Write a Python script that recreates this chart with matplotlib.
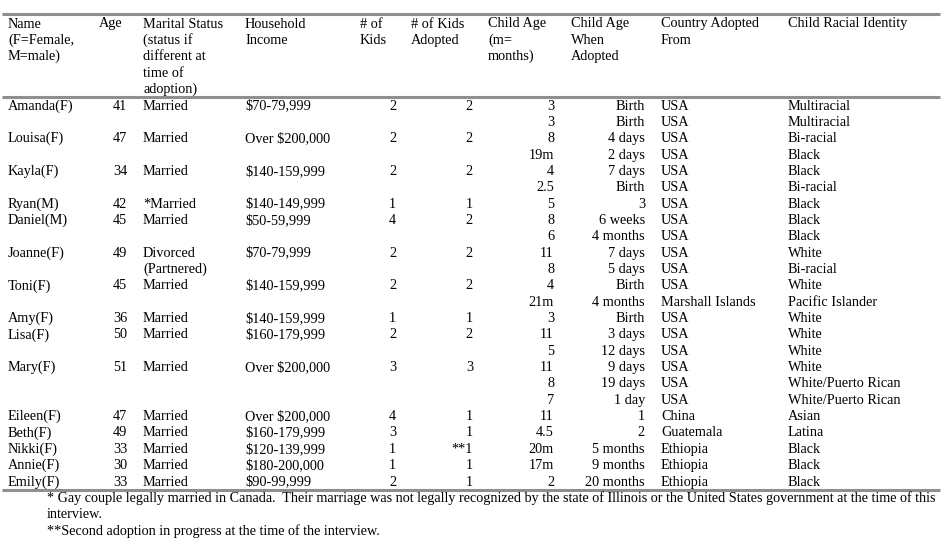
import matplotlib
matplotlib.use("Agg")
import matplotlib.pyplot as plt

names = ["Amanda(F)", "", "Louisa(F)", "", "Kayla(F)", "", "Ryan(M)", "Daniel(M)", "",
         "Joanne(F)", "", "Toni(F)", "", "Amy(F)", "Lisa(F)", "", "Mary(F)", "", "",
         "Eileen(F)", "Beth(F)", "Nikki(F)", "Annie(F)", "Emily(F)"]
ages = ["41", "", "47", "", "34", "", "42", "45", "", "49", "", "45", "", "36", "50", "",
        "51", "", "", "47", "49", "33", "30", "33"]
marital = ["Married", "", "Married", "", "Married", "", "*Married", "Married", "",
           "Divorced", "(Partnered)", "Married", "", "Married", "Married", "", "Married", "", "",
           "Married", "Married", "Married", "Married", "Married"]
income = ["$70-79,999", "", "Over $200,000", "", "$140-159,999", "", "$140-149,999",
          "$50-59,999", "", "$70-79,999", "", "$140-159,999", "", "$140-159,999",
          "$160-179,999", "", "Over $200,000", "", "", "Over $200,000", "$160-179,999",
          "$120-139,999", "$180-200,000", "$90-99,999"]
kids = ["2", "", "2", "", "2", "", "1", "4", "", "2", "", "2", "", "1", "2", "", "3", "", "",
        "4", "3", "1", "1", "2"]
kids_adopted = ["2", "", "2", "", "2", "", "1", "2", "", "2", "", "2", "", "1", "2", "", "3",
                "", "", "1", "1", "**1", "1", "1"]
child_age = ["3", "3", "8", "19m", "4", "2.5", "5", "8", "6", "11", "8", "4", "21m", "3",
             "11", "5", "11", "8", "7", "11", "4.5", "20m", "17m", "2"]
age_adopted = ["Birth", "Birth", "4 days", "2 days", "7 days", "Birth", "3", "6 weeks",
               "4 months", "7 days", "5 days", "Birth", "4 months", "Birth", "3 days",
               "12 days", "9 days", "19 days", "1 day", "1", "2", "5 months", "9 months",
               "20 months"]
country = ["USA", "USA", "USA", "USA", "USA", "USA", "USA", "USA", "USA", "USA", "USA", "USA",
           "Marshall Islands", "USA", "USA", "USA", "USA", "USA", "USA", "China", "Guatemala",
           "Ethiopia", "Ethiopia", "Ethiopia"]
race = ["Multiracial", "Multiracial", "Bi-racial", "Black", "Black", "Bi-racial", "Black",
        "Black", "Black", "White", "Bi-racial", "White", "Pacific Islander", "White", "White",
        "White", "White", "White/Puerto Rican", "White/Puerto Rican", "Asian", "Latina",
        "Black", "Black", "Black"]

headers = [
    "Name\n(F=Female,\nM=male)", "Age",
    "Marital Status\n(status if\ndifferent at\ntime of\nadoption)",
    "Household\nIncome", "# of\nKids", "# of Kids\nAdopted",
    "Child Age\n(m=\nmonths)", "Child Age\nWhen\nAdopted", "Country Adopted\nFrom",
    "Child Racial Identity",
]
footnotes = [
    "* Gay couple legally married in Canada.  Their marriage was not legally recognized by the state of Illinois or the United States government at the time of this",
    "interview.",
    "**Second adoption in progress at the time of the interview.",
]

columns = [names, ages, marital, income, kids, kids_adopted, child_age, age_adopted,
           country, race]
# (header x, data x, data alignment)
col_layout = [(8, 8, "left"), (99, 127, "right"), (143, 143, "left"), (245, 245, "left"),
              (360, 396, "right"), (411, 473, "right"), (488, 554, "right"),
              (571, 645, "right"), (661, 661, "left"), (788, 788, "left")]

W, H = 950, 550
fig = plt.figure(figsize=(W / 100, H / 100), dpi=100)
ax = fig.add_axes([0, 0, 1, 1])
ax.set_xlim(0, W)
ax.set_ylim(H, 0)
ax.axis("off")

font = "Liberation Serif"
fs = 10.3
pitch = 16.35
row0 = 109.5   # baseline of first data row
head0 = 27.5   # baseline of first header line

line_kw = dict(color="#8f8f8f", lw=2.2, solid_capstyle="butt")
ax.plot([2, 940], [13.5, 13.5], **line_kw)
ax.plot([2, 940], [97, 97], **line_kw)
ax.plot([2, 940], [490, 490], **line_kw)

for (hx, dx, align), head, col in zip(col_layout, headers, columns):
    for j, line in enumerate(head.split("\n")):
        ax.text(hx, head0 + j * pitch, line, ha="left", va="baseline",
                fontsize=fs, family=font, color="black")
    for i, val in enumerate(col):
        if val:
            ax.text(dx, row0 + i * pitch, val, ha=align, va="baseline",
                    fontsize=fs, family=font, color="black")

foot_y = [502, 518, 534.5]
for y, note in zip(foot_y, footnotes):
    ax.text(47, y, note, ha="left", va="baseline", fontsize=10.2,
            family=font, color="black")

fig.savefig("out.png", dpi=100, facecolor="white")
